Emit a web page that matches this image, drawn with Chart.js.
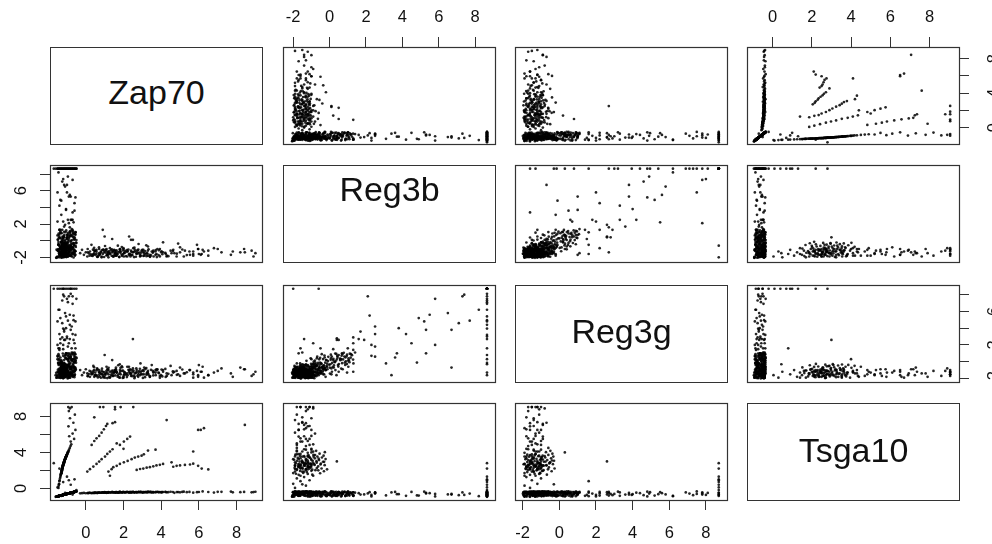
<!DOCTYPE html>
<html>
<head>
<meta charset="utf-8">
<title>Scatterplot matrix: Zap70, Reg3b, Reg3g, Tsga10</title>
<script src="https://cdn.jsdelivr.net/npm/chart.js@4.4.1/dist/chart.umd.min.js"></script>
<style>
  html, body { margin: 0; padding: 0; background: #fff; overflow: hidden; }
  #matrix { position: relative; width: 992px; height: 544px; overflow: hidden; }
  .diag {
    position: absolute;
    box-sizing: border-box;
    border: 1.2px solid #333;
    display: flex;
    align-items: center;
    justify-content: center;
    font-family: "Liberation Sans", Arial, sans-serif;
    font-size: 34px;
    color: #111;
  }
</style>
</head>
<body>
<div id="matrix"></div>
<script>
// Gene names, in matrix order
const genes = ['Zap70', 'Reg3b', 'Reg3g', 'Tsga10'];

// Axis limits per gene (data range plus R's 4% padding)
const axisMin = [-1.9, -2.56, -2.42, -1.3];
const axisMax = [9.35, 9.09, 9.15, 9.5];

// Tick positions and the labels that survive on the vertical axes
const tickValues = [[0, 2, 4, 6, 8], [-2, 0, 2, 4, 6, 8], [-2, 0, 2, 4, 6, 8], [0, 2, 4, 6, 8]];
const sideLabels = [[0, 4, 8], [-2, 2, 6], [-2, 2, 6], [0, 4, 8]];

// Each cell: [Zap70, Reg3b, Reg3g, Tsga10]
// Zap70-expressing cells
const zapCells = [
  [8.9, -1.9, -1.5, -0.42], [9.0, -1.5, -1.2, -0.38], [8.8, -1.2, -1.7, -0.45], [8.4, -1.0, -0.9, -0.40],
  [7.7, -1.7, -1.4, -0.36], [7.8, -1.3, -1.8, -0.44], [7.2, -1.4, -0.8, -0.39], [6.8, -0.9, -1.3, -0.47],
  [6.5, -1.8, -1.6, -0.41], [6.2, -1.1, -0.6, -0.35], [5.9, -0.5, -1.1, -0.43], [5.7, -1.6, -1.9, -0.48],
  [5.5, -1.3, -1.0, -0.40], [5.2, -1.9, -1.4, -0.37], [5.0, -0.8, -0.7, -0.45], [4.9, -0.35, -1.5, -0.42],
  [4.7, -1.5, -1.2, -0.50], [4.5, -1.2, -0.5, -0.38], [4.3, -1.8, -1.7, -0.44], [4.1, -0.2, -1.0, -0.41],
  [4.0, -1.4, -1.6, -0.46], [3.8, -1.0, -0.9, -0.39], [3.7, -1.7, -1.3, -0.43], [3.5, -1.3, -0.4, -0.47],
  [3.4, -1.9, -1.8, -0.40], [3.3, -0.7, -1.1, -0.36], [3.1, -1.5, -0.7, -0.44], [3.0, -1.1, -1.5, -0.49],
  [2.9, -1.8, -0.2, -0.42], [2.8, -0.4, -1.3, -0.38], [2.7, -1.6, -1.0, -0.45], [2.5, 0.1, -0.8, -0.41],
  [2.4, -1.2, -1.7, -0.47], [2.3, 0.5, -1.2, -0.43], [2.2, -1.9, -0.6, -0.39], [2.1, -1.4, -1.4, -0.46],
  [2.0, -0.9, -1.9, -0.40], [1.9, -1.7, -1.1, -0.44], [1.8, -1.3, -0.3, -0.37], [1.7, -0.6, -1.6, -0.48],
  [1.6, -1.8, -0.9, -0.42], [1.5, -1.1, -1.3, -0.45], [1.4, 0.2, 0.2, -0.40], [1.3, -1.5, -1.8, -0.47],
  [1.2, -2.0, -1.0, -0.43], [1.1, -1.0, -0.6, -0.50], [1.0, 0.5, 0.8, -0.41], [0.9, -1.6, -1.5, -0.46],
  [0.9, 1.3, -1.2, -0.44], [0.8, -1.3, -1.9, -0.49], [0.7, -0.8, -1.2, -0.45], [0.6, -1.9, -0.8, -0.51],
  [0.5, -1.2, -1.6, -0.47], [0.4, -1.6, -0.5, -0.50], [0.3, -0.5, -1.4, -0.53], [0.2, -1.8, -1.1, -0.48],
  [0.1, -1.0, -1.7, -0.52], [0.0, -1.4, -0.9, -0.55], [-0.1, -1.7, -1.3, -0.51], [-0.2, -1.1, -1.6, -0.54],
  [-0.3, -1.5, -1.0, -0.56], [2.5, -1.4, 2.7, -0.40], [2.4, 0.1, -1.5, -0.42], [6.0, -1.6, -0.4, -0.41],
  [7.0, -1.0, -1.1, -0.39], [8.2, -1.4, -0.7, -0.43], [3.6, -1.9, -1.2, -0.46], [2.6, -1.3, -1.8, -0.44],
  [1.6, -1.5, -0.7, -0.48], [0.5, -1.7, -1.3, -0.50]
];

// Zap70 cells, dense core
const zapCore = [
  [0.36, -1.84, -1.46, -0.52], [0.57, -1.33, -1.04, -0.50], [0.73, -1.67, -1.77, -0.49], [0.86, -1.12, -0.83, -0.47],
  [0.97, -1.96, -1.24, -0.48], [1.04, -1.43, -1.57, -0.46], [1.17, -1.76, -0.94, -0.47], [1.23, -1.27, -1.86, -0.45],
  [1.38, -1.03, -1.33, -0.46], [1.44, -1.88, -1.07, -0.44], [1.56, -1.52, -1.63, -0.45], [1.63, -1.17, -1.16, -0.43],
  [1.78, -1.94, -1.42, -0.46], [1.84, -1.46, -0.73, -0.44], [1.96, -1.64, -1.93, -0.42], [2.07, -1.23, -1.27, -0.45],
  [2.13, -1.86, -1.54, -0.43], [2.26, -1.07, -0.96, -0.44], [2.34, -1.57, -1.36, -0.42], [2.47, -1.74, -1.72, -0.45],
  [2.53, -1.36, -1.06, -0.41], [2.66, -1.93, -1.34, -0.43], [2.74, -1.14, -1.67, -0.44], [2.87, -1.66, -0.84, -0.42],
  [2.93, -1.44, -1.47, -0.40], [3.06, -1.83, -1.13, -0.43], [3.14, -1.26, -1.84, -0.41], [3.27, -1.54, -1.23, -0.44],
  [3.33, -1.04, -1.56, -0.42], [3.46, -1.77, -0.97, -0.40], [3.58, -1.34, -1.64, -0.43], [3.77, -1.97, -1.03, -0.41],
  [3.88, -1.16, -1.37, -0.44], [4.06, -1.63, -1.76, -0.42], [4.22, -1.47, -0.86, -0.40], [4.38, -1.86, -1.44, -0.43],
  [4.62, -1.24, -1.14, -0.41], [4.83, -1.56, -1.57, -0.42], [5.12, -1.06, -0.93, -0.40], [5.36, -1.73, -1.26, -0.43],
  [0.44, -0.86, -0.66, -0.51], [1.02, -0.64, -1.46, -0.48], [1.91, -0.77, -0.54, -0.45], [2.58, -0.84, -1.96, -0.44],
  [3.21, -0.56, -0.76, -0.42], [0.16, -1.52, -1.48, -0.53], [0.64, -1.91, -1.88, -0.50], [1.72, -1.38, -0.42, -0.47],
  [2.29, -1.62, -0.61, -0.44], [3.93, -1.89, -1.92, -0.41]
];

// Zap70 cells, low-expression end of the core
const zapFill = [
  [0.27, -1.64, -1.18, -0.52], [0.48, -1.22, -1.63, -0.51], [0.62, -1.95, -0.91, -0.50], [0.81, -1.41, -1.42, -0.48],
  [0.93, -1.07, -1.88, -0.47], [1.09, -1.78, -1.11, -0.46], [1.21, -1.53, -0.72, -0.47], [1.33, -1.16, -1.57, -0.45],
  [1.47, -1.92, -1.36, -0.46], [1.58, -1.29, -0.98, -0.44], [1.69, -1.61, -1.79, -0.45], [1.82, -1.03, -1.21, -0.43],
  [1.93, -1.83, -0.66, -0.45], [2.04, -1.48, -1.49, -0.44], [2.18, -1.14, -1.83, -0.43], [2.31, -1.71, -1.02, -0.44],
  [2.42, -1.33, -1.31, -0.42], [2.56, -1.97, -1.66, -0.44], [2.68, -1.52, -0.79, -0.42], [2.79, -1.08, -1.52, -0.43],
  [2.91, -1.81, -1.24, -0.41], [3.03, -1.37, -1.93, -0.43], [3.16, -1.65, -0.88, -0.42], [3.29, -1.21, -1.38, -0.41],
  [3.41, -1.94, -1.71, -0.43], [3.55, -1.46, -1.08, -0.41], [3.71, -1.12, -1.61, -0.42], [3.86, -1.73, -1.29, -0.41],
  [4.02, -1.27, -0.94, -0.43], [4.24, -1.58, -1.81, -0.41], [0.38, -1.08, -1.29, -0.52], [0.71, -1.75, -1.56, -0.49],
  [1.14, -1.32, -1.95, -0.47], [1.52, -1.69, -1.22, -0.45], [1.97, -1.18, -1.06, -0.44], [2.37, -1.89, -1.44, -0.43],
  [2.83, -1.42, -1.11, -0.42], [3.22, -1.86, -1.57, -0.43], [0.11, -1.39, -1.72, -0.53], [1.77, -1.97, -1.88, -0.45]
];

// Reg3b / Reg3g cells, main cloud
const reg3Cells = [
  [-1.55, -2.05, -1.9, -0.92], [-1.2, -1.88, -1.4, -0.73], [-0.9, -1.83, -1.7, -0.57], [-1.4, -1.72, -1.1, -0.84],
  [-0.7, -1.58, -1.8, -0.46], [-1.05, -1.52, -1.4, -0.65], [-1.3, -1.37, -0.9, -0.79], [-0.6, -1.31, -1.6, -0.40],
  [-1.5, -1.16, -1.2, -0.90], [-0.85, -1.12, -0.6, -0.54], [-1.15, -0.97, -1.5, -0.70], [-0.75, -0.93, -1.0, -0.48],
  [-1.35, -0.78, -0.3, -0.81], [-0.95, -0.71, -1.3, -0.59], [-0.55, -0.58, -0.8, -0.37], [-1.25, -0.52, -0.1, -0.76],
  [-1.0, -0.36, -1.1, -0.62], [-0.65, -0.33, -0.5, -0.43], [-1.45, -0.17, 0.2, -0.87], [-0.8, -0.12, -0.9, -0.51],
  [-1.1, 0.04, -0.3, -0.68], [-0.5, 0.08, 0.4, -0.35], [-1.3, 0.23, -0.7, -0.79], [-0.9, 0.27, 0.0, -0.57],
  [-1.2, 0.42, 0.7, -0.73], [-0.7, 0.46, -0.4, -0.46], [-1.5, 0.63, 0.3, -0.90], [-1.0, 0.68, 1.0, -0.62],
  [-0.6, 0.84, -0.1, -0.40], [-1.35, 0.87, 0.5, -0.81], [-0.85, 1.03, -0.6, -0.54], [-1.15, 1.07, 0.2, -0.70],
  [-0.75, 1.18, 0.9, -0.48], [-1.4, 1.31, -0.2, -0.84], [-0.95, -1.93, -0.5, -0.59], [-1.25, -1.62, -0.2, -0.76],
  [-0.55, -1.27, 0.1, -0.37], [-1.05, -1.04, 0.4, -0.65], [-0.8, -0.68, 0.6, -0.51], [-1.45, -0.43, 0.9, -0.87],
  [-0.65, -2.02, -1.2, -0.43], [-1.2, -1.67, -1.9, -0.73], [-0.9, -1.42, -1.5, -0.57], [-1.55, -1.08, -1.9, -0.92],
  [-0.7, -0.82, -1.7, -0.46], [-1.1, -0.47, -1.4, -0.68], [-1.3, -0.22, -1.8, -0.79], [-0.6, 0.13, -1.2, -0.40],
  [-1.0, 0.38, -1.6, -0.62], [-0.85, 0.72, -0.9, -0.54], [-1.35, 0.96, -1.3, -0.81], [-0.75, -1.46, -0.6, -0.48],
  [-1.15, -0.88, -0.2, -0.70], [-0.5, -0.27, 0.5, -0.35], [-1.4, 0.32, -1.0, -0.84]
];

// Reg3 cells, second pass over the dense cloud
const reg3Core = [
  [-1.52, -1.94, -1.62, -0.91], [-1.18, -1.81, -1.23, -0.72], [-0.88, -1.76, -1.91, -0.56], [-1.38, -1.63, -1.47, -0.83],
  [-0.68, -1.55, -1.08, -0.45], [-1.08, -1.47, -1.74, -0.67], [-1.28, -1.39, -1.29, -0.78], [-0.58, -1.28, -1.52, -0.39],
  [-1.48, -1.21, -0.97, -0.89], [-0.83, -1.14, -1.38, -0.53], [-1.13, -1.06, -1.12, -0.69], [-0.73, -0.98, -1.61, -0.47],
  [-1.33, -0.91, -0.74, -0.80], [-0.93, -0.84, -1.17, -0.58], [-0.53, -0.76, -0.93, -0.36], [-1.23, -0.69, -0.46, -0.75],
  [-0.98, -0.61, -1.02, -0.61], [-0.63, -0.54, -0.68, -0.42], [-1.43, -0.47, -0.21, -0.86], [-0.78, -0.39, -0.57, -0.50],
  [-1.12, -0.31, -0.83, -0.69], [-0.52, -0.24, -0.12, -0.36], [-1.32, -0.16, -0.49, -0.80], [-0.92, -0.09, 0.08, -0.58],
  [-1.22, -0.02, -0.36, -0.74], [-0.72, 0.06, 0.22, -0.47], [-1.47, 0.14, -0.15, -0.88], [-1.02, 0.21, 0.35, -0.63],
  [-0.62, 0.29, -0.06, -0.42], [-1.37, 0.36, 0.13, -0.82], [-0.87, 0.44, 0.56, -0.55], [-1.17, 0.51, -0.28, -0.71],
  [-0.77, 0.59, 0.18, -0.49], [-1.42, 0.66, 0.71, -0.85], [-0.97, 0.74, 0.27, -0.60], [-0.57, 0.81, 0.62, -0.38],
  [-1.27, 0.89, 0.05, -0.77], [-0.82, 0.96, 0.84, -0.52], [-1.07, 1.04, 0.41, -0.66], [-0.67, 1.11, 0.96, -0.44],
  [-1.57, -2.06, -1.33, -0.93], [-1.03, -1.97, -0.86, -0.64], [-0.76, -1.88, -1.46, -0.48], [-1.31, -1.72, -0.62, -0.79],
  [-0.61, -1.68, -1.66, -0.40], [-1.16, -1.59, -0.79, -0.70], [-0.91, -1.43, -0.36, -0.57], [-1.41, -1.33, -1.83, -0.84],
  [-0.56, -1.24, -0.71, -0.37], [-1.21, -1.17, -1.96, -0.74], [-0.86, -1.02, -0.27, -0.55], [-1.36, -0.94, -1.44, -0.82],
  [-0.66, -0.87, 0.02, -0.43], [-1.11, -0.73, -1.73, -0.69], [-0.81, -0.63, -0.14, -0.51], [-1.46, -0.49, -1.27, -0.87],
  [-0.71, -0.36, 0.31, -0.46], [-1.01, -0.21, -0.98, -0.63], [-1.26, 0.02, -1.41, -0.76], [-0.60, 0.17, -0.63, -0.40]
];

// Reg3 cells, upper edge of the dense cloud
const reg3Fill = [
  [-1.19, -0.95, -0.42, -0.72], [-0.74, -0.81, 0.12, -0.47], [-1.39, -0.66, -0.88, -0.83], [-0.89, -0.52, 0.47, -0.56],
  [-1.09, -0.41, -0.63, -0.67], [-0.64, -0.28, 0.74, -0.43], [-1.29, -0.13, -0.24, -0.78], [-0.79, 0.01, -0.71, -0.50],
  [-1.49, 0.12, 0.61, -0.89], [-0.99, 0.24, -0.44, -0.61], [-0.59, 0.37, 0.93, -0.39], [-1.24, 0.48, -0.58, -0.75],
  [-0.84, 0.57, 0.37, -0.53], [-1.14, 0.69, -0.17, -0.70], [-0.69, 0.78, 1.07, -0.45], [-1.44, 0.86, -0.38, -0.86],
  [-0.94, 0.93, 0.66, -0.59], [-0.54, 1.02, 0.14, -0.37], [-1.34, 1.09, -0.05, -0.81], [-0.84, 1.16, 0.48, -0.53],
  [-1.04, 1.23, 0.78, -0.64], [-0.70, 1.29, 0.25, -0.45], [-1.22, 0.31, 0.98, -0.74], [-0.77, 0.64, -0.82, -0.49],
  [-1.12, -0.07, 0.58, -0.69], [-0.62, -0.57, 0.28, -0.41], [-1.32, -0.77, -0.15, -0.79], [-0.92, 0.07, 0.84, -0.57],
  [-1.42, 0.41, 0.34, -0.85], [-0.67, 0.95, -0.26, -0.44], [-1.53, -1.98, -1.78, -0.92], [-1.17, -1.86, -1.52, -0.71],
  [-0.81, -1.74, -1.26, -0.51], [-1.35, -1.61, -1.94, -0.82], [-0.71, -1.49, -1.42, -0.46], [-1.06, -1.38, -1.67, -0.66],
  [-1.26, -1.26, -1.13, -0.77], [-0.61, -1.12, -1.85, -0.41], [-1.46, -1.00, -1.31, -0.87], [-0.86, -0.89, -1.57, -0.55],
  [-1.14, -1.95, -1.06, -0.70], [-0.76, -1.83, -0.77, -0.48], [-1.37, -1.70, -1.60, -0.82], [-0.96, -1.57, -1.99, -0.60],
  [-1.23, -1.44, -0.68, -0.75], [-0.66, -1.31, -1.16, -0.43], [-1.02, -1.18, -1.48, -0.63], [-1.43, -1.06, -0.84, -0.86],
  [-0.83, -0.96, -1.90, -0.52], [-1.28, -2.04, -1.45, -0.78]
];

// Reg3 cells with high expression, scattered along the diagonal
const reg3Outliers = [
  [-1.0, 6.7, -0.7, -0.62], [-0.7, 3.4, -1.6, -0.46], [-1.3, 4.8, -0.1, -0.79], [-0.9, 5.3, 1.0, -0.57],
  [-1.5, 5.8, 2.0, -0.90], [-0.6, 4.5, 2.2, -0.40], [-1.15, 6.7, 3.8, -0.70], [-0.8, 5.3, 3.8, -0.51],
  [-1.4, 4.2, 3.3, -0.84], [-1.05, 3.8, 4.0, -0.65], [-0.75, 2.5, 4.2, -0.48], [-1.25, 7.1, 4.6, -0.76],
  [-0.95, 7.7, 4.9, -0.59], [-0.55, 5.2, 4.8, -0.37], [-1.35, 4.9, 5.2, -0.81], [-0.85, 5.5, 5.6, -0.54],
  [-1.1, 6.5, 5.8, -0.68], [-0.65, 2.2, 5.5, -0.43], [-1.45, 8.2, 6.2, -0.87], [-1.0, 5.8, 7.5, -0.62],
  [-0.7, 7.3, 7.8, -0.46], [-1.2, 7.4, 8.0, -0.73], [-0.9, 2.1, 7.8, -0.57], [-1.3, 3.1, -0.2, -0.79],
  [-0.6, 3.6, 0.5, -0.40], [-1.05, 3.7, 1.0, -0.65], [-0.8, 2.5, 0.6, -0.51], [-1.5, 2.3, 0.7, -0.90],
  [-0.95, 2.5, 1.8, -0.59], [-1.2, 2.3, 2.0, -0.73], [-0.75, 1.4, 1.1, -0.48], [-1.4, 1.3, 1.4, -0.84],
  [-0.55, 1.0, 1.6, -0.37], [-1.1, 1.9, 2.6, -0.68], [-0.85, 1.6, 2.7, -0.54], [-1.35, 1.3, 2.2, -0.81],
  [-0.65, 0.5, 2.6, -0.43], [-1.0, 0.4, 2.8, -0.62], [-1.25, 1.3, 2.9, -0.76], [-0.7, 2.5, 3.3, -0.46],
  [-1.15, 1.7, 3.6, -0.70], [-0.9, -0.9, 2.2, -0.57], [-1.45, -0.5, 1.6, -0.87], [-0.6, -1.5, 1.1, -0.40],
  [-1.05, -1.7, 1.0, -0.65], [-0.8, -0.7, 0.4, -0.51], [-1.3, -0.2, 0.2, -0.79], [-0.95, 0.6, 0.3, -0.59],
  [-0.55, 0.7, 0.9, -0.37], [-1.2, 0.2, 1.5, -0.73], [-0.8, -0.6, 8.7, -0.51], [-1.2, -2.0, 8.7, -0.73]
];

// Reg3b at its ceiling
const reg3bCapped = [
  [-1.6, 8.65, -1.6, -0.95], [-1.3, 8.65, -1.3, -0.79], [-0.9, 8.65, -0.3, -0.57], [-1.45, 8.65, -0.15, -0.87],
  [-0.6, 8.65, 0.3, -0.40], [-1.1, 8.65, 0.8, -0.68], [-0.75, 8.65, 1.6, -0.48], [-1.35, 8.65, 2.7, -0.81],
  [-1.0, 8.65, 3.0, -0.62], [-0.55, 8.65, 3.2, -0.37], [-1.2, 8.65, 3.95, -0.73], [-0.85, 8.65, 4.4, -0.54],
  [-1.5, 8.65, 4.8, -0.90], [-0.65, 8.65, 4.95, -0.43], [-1.05, 8.65, 5.4, -0.65], [-1.4, 8.65, 6.2, -0.84],
  [-0.7, 8.65, 6.9, -0.46], [-0.95, 8.65, 7.1, -0.59], [-1.25, 8.65, 7.3, -0.76], [-0.5, 8.65, 7.5, -0.35],
  [-1.15, 8.65, 7.8, -0.70], [-0.8, 8.65, 8.1, -0.51]
];

// Both Reg3 genes at their ceiling
const saturated = [
  [-1.7, 8.65, 8.7, 2.8], [-1.4, 8.65, 8.7, 2.2], [-1.0, 8.65, 8.7, 1.3], [-0.6, 8.65, 8.7, 1.0],
  [-1.2, 8.65, 8.7, 0.7], [-0.8, 8.65, 8.7, 0.4], [-1.5, 8.65, 8.7, 0.1], [-0.5, 8.65, 8.7, -0.2],
  [-1.1, 8.65, 8.7, -0.5], [-0.7, 8.65, 8.7, -0.7], [-1.3, 8.65, 8.7, -0.85], [-0.9, 8.65, 8.7, 0.9]
];

// Tsga10-expressing cells
const tsgaCells = [
  [-1.45, -1.9, -1.6, 0.05], [-1.44, -1.3, -1.9, 0.3], [-1.42, -2.0, -1.2, 0.5], [-1.40, -1.6, 1.6, 0.8],
  [-1.39, -1.1, -1.5, 0.9], [-1.37, -1.8, -1.0, 1.1], [-1.35, -1.4, -1.8, 1.25], [-1.34, -0.9, -1.3, 1.4],
  [-1.33, -1.7, -1.6, 1.5], [-1.32, -1.2, -1.1, 1.6], [-1.31, -2.0, -1.9, 1.7], [-1.29, -1.5, -1.4, 1.85],
  [-1.28, -1.0, -0.9, 1.95], [-1.27, -1.8, -1.7, 2.05], [-1.26, -1.3, -1.2, 2.15], [-1.25, -0.7, -1.6, 2.25],
  [-1.24, -1.6, -1.0, 2.3], [-1.23, -1.1, -1.8, 2.4], [-1.22, -1.9, -1.4, 2.5], [-1.21, -1.4, -0.7, 2.55],
  [-1.20, -0.5, -1.3, 2.65], [-1.19, -1.7, -1.9, 2.7], [-1.17, -1.2, -1.1, 2.8], [-1.16, -0.9, -1.5, 2.85],
  [-1.16, -1.5, -0.5, 2.9], [-1.15, 0.4, 2.6, 3.0], [-1.14, -1.8, -1.2, 3.05], [-1.12, -1.0, -1.7, 3.15],
  [-1.11, -1.3, -0.9, 3.2], [-1.09, -0.6, -1.4, 3.3], [-1.08, -1.6, -1.8, 3.35], [-1.06, -1.1, -1.0, 3.45],
  [-1.04, -1.9, -1.5, 3.55], [-1.03, -1.4, -0.8, 3.6], [-1.01, -0.8, -1.6, 3.7], [-0.99, -1.7, -1.3, 3.8],
  [-0.96, -1.2, -1.9, 3.95], [-0.93, -1.5, -1.1, 4.1], [-0.89, -1.0, -1.4, 4.3], [-0.85, -1.8, -0.6, 4.5],
  [-0.81, -1.3, -1.7, 4.7], [-0.77, -0.9, -1.2, 4.9], [-0.80, -1.6, -1.5, 5.2], [-0.62, -1.1, -0.9, 5.5],
  [-0.88, -1.4, -1.8, 5.8], [-0.70, -0.8, -1.3, 6.1], [-0.55, -1.7, -1.0, 6.5], [-0.92, -1.2, -1.6, 6.9],
  [-0.66, -1.5, -0.7, 7.3], [-0.84, -1.0, -1.4, 7.8], [-0.58, -1.8, -1.1, 8.2], [-0.90, -1.3, -1.7, 8.6],
  [-0.93, -1.6, -1.2, 9.05], [-0.75, -1.1, -1.5, 9.05], [-0.84, -0.9, -0.8, 8.9], [-1.21, -1.9, -1.0, 2.6],
  [-1.15, -0.3, -1.5, 2.95], [-1.13, -1.2, -0.4, 3.1], [-1.42, -1.5, -0.3, 0.45], [-0.95, -1.0, 0.3, 4.0]
];

// Tsga10 cells, dense core
const tsgaCore = [
  [-1.30, -1.85, -1.35, 1.62], [-1.28, -1.25, -1.75, 1.81], [-1.27, -1.62, -0.95, 1.93], [-1.26, -0.95, -1.45, 2.08],
  [-1.25, -1.48, -1.85, 2.19], [-1.24, -1.92, -1.15, 2.28], [-1.23, -1.15, -1.55, 2.36], [-1.22, -1.72, -1.25, 2.47],
  [-1.21, -1.35, -0.85, 2.52], [-1.20, -0.82, -1.65, 2.61], [-1.19, -1.58, -1.95, 2.68], [-1.18, -1.05, -1.05, 2.74],
  [-1.17, -1.85, -1.45, 2.79], [-1.16, -1.42, -1.15, 2.83], [-1.15, -1.18, -1.75, 2.92], [-1.14, -1.65, -0.75, 2.98],
  [-1.13, -0.72, -1.35, 3.02], [-1.12, -1.52, -1.55, 3.10], [-1.11, -1.95, -1.05, 3.18], [-1.10, -1.28, -1.85, 3.24],
  [-1.09, -1.02, -1.25, 3.28], [-1.08, -1.75, -1.45, 3.38], [-1.06, -1.38, -0.95, 3.48], [-1.05, -0.88, -1.65, 3.52],
  [-1.04, -1.62, -1.15, 3.58], [-1.02, -1.15, -1.35, 3.66], [-1.00, -1.88, -1.75, 3.75], [-1.29, -1.45, -1.05, 1.72],
  [-1.27, -0.62, -1.25, 2.00], [-1.18, -1.32, -0.55, 2.77]
];

// Tsga10 cells with some Reg3 signal
const tsgaSpread = [
  [-1.33, -0.95, -0.68, 1.52], [-1.30, -0.52, -1.05, 1.68], [-1.28, -0.31, -0.42, 1.90], [-1.27, -0.78, -0.86, 2.02],
  [-1.25, -0.44, -0.26, 2.21], [-1.24, -1.02, -0.57, 2.33], [-1.22, -0.63, -0.95, 2.44], [-1.21, -0.27, -0.71, 2.58],
  [-1.19, -0.86, -0.35, 2.69], [-1.18, -0.48, -1.08, 2.76], [-1.17, -0.71, -0.52, 2.86], [-1.15, -0.36, -0.84, 2.96],
  [-1.14, -0.93, -0.29, 3.07], [-1.12, -0.58, -0.66, 3.14], [-1.10, -0.22, -0.98, 3.26], [-1.09, -0.81, -0.45, 3.34],
  [-1.07, -0.42, -0.77, 3.43], [-1.05, -0.67, -0.33, 3.54], [-1.03, -0.33, -0.91, 3.63], [-1.01, -0.89, -0.60, 3.72],
  [-0.98, -0.55, -0.38, 3.86], [-0.95, -0.26, -0.73, 4.02], [-0.91, -0.74, -0.49, 4.18], [-1.26, -0.14, -0.62, 2.12]
];

// Cells expressing both Zap70 and Tsga10
const zapTsgaCells = [
  [0.75, -1.6, -1.3, 9.05], [0.93, -1.1, -1.7, 9.05], [1.55, -1.8, -1.0, 9.05], [1.85, -1.3, -1.5, 9.05],
  [2.52, -0.9, -1.2, 9.05], [0.45, -1.5, -1.8, 7.9], [1.55, -1.2, -1.1, 8.8], [4.29, -1.9, -1.4, 7.6],
  [8.44, -1.4, -0.9, 7.06], [5.96, -1.0, -1.6, 6.5], [6.1, -1.7, -1.2, 6.5], [6.27, -1.3, -1.9, 6.7],
  [0.31, -1.8, -1.5, 4.83], [0.45, -1.2, -1.0, 5.27], [0.57, -1.6, -1.7, 5.57], [0.71, -1.0, -1.3, 5.83],
  [0.84, -1.9, -1.1, 6.2], [0.96, -1.4, -1.8, 6.57], [1.07, -1.1, -1.4, 6.94], [1.14, -1.7, -0.9, 7.17],
  [1.42, -1.3, -1.6, 7.25], [1.55, -1.5, -1.2, 7.36], [0.08, -1.9, -1.4, 1.87], [0.22, -1.3, -1.8, 2.13],
  [0.4, -1.7, -1.1, 2.42], [0.57, -1.1, -1.6, 2.72], [0.71, -1.5, -1.0, 2.98], [0.84, -2.0, -1.5, 3.24],
  [1.02, -1.2, -1.9, 3.53], [1.14, -1.6, -1.3, 3.83], [1.28, -0.9, -1.2, 4.09], [1.42, -1.4, -1.7, 4.35],
  [1.64, -1.8, -1.3, 5.0], [1.81, -1.1, -1.0, 4.83], [2.02, -1.5, -1.6, 5.2], [2.2, -1.3, -1.4, 5.5],
  [2.35, -1.7, -0.9, 5.76], [2.0, -1.0, -1.8, 4.4], [1.2, -1.4, -1.5, 1.87], [1.37, -1.8, -1.1, 2.13],
  [1.46, -1.2, -1.7, 2.35], [1.64, -1.6, -1.3, 2.5], [1.81, -1.0, -1.9, 2.72], [2.02, -1.9, -1.2, 2.9],
  [2.22, -1.3, -1.6, 3.05], [2.43, -1.7, -1.0, 3.24], [2.6, -1.1, -1.4, 3.42], [2.78, -1.5, -1.8, 3.53],
  [2.96, -1.2, -1.1, 3.64], [3.08, -1.8, -1.5, 3.79], [1.28, -1.6, -1.9, 1.4], [2.7, -1.3, -1.2, 2.05],
  [2.88, -1.9, -1.6, 2.15], [3.05, -1.1, -1.0, 2.2], [3.23, -1.5, -1.4, 2.3], [3.4, -1.7, -1.8, 2.35],
  [3.58, -1.2, -1.3, 2.45], [3.75, -1.6, -0.9, 2.55], [3.93, -1.0, -1.7, 2.62], [4.1, -1.4, -1.2, 2.72],
  [3.3, -1.8, -1.4, 4.2], [3.7, -1.3, -1.0, 4.3], [4.55, -1.5, -1.6, 2.9], [4.64, -1.1, -1.3, 2.4],
  [4.82, -1.9, -1.1, 2.5], [5.0, -1.4, -1.7, 2.55], [5.26, -1.2, -1.4, 2.6], [5.53, -1.7, -1.0, 2.65],
  [5.7, -1.3, -1.5, 2.75], [5.96, -1.0, -1.8, 2.5], [6.15, -1.6, -1.2, 2.2], [6.5, -1.2, -1.6, 2.1],
  [5.7, -1.8, -1.3, 4.1]
];

const cells = [].concat(zapCells, zapCore, zapFill, reg3Cells, reg3Core, reg3Fill, reg3Outliers,
  reg3bCapped, saturated, tsgaCells, tsgaCore, tsgaSpread, zapTsgaCells);

// Panel grid in page pixels
const colLeft = [50, 283, 515, 747];
const rowTop = [47, 165, 285, 403];
const cellW = 212;
const cellH = 97;
const margin = 50;
const axisSize = 45;
// vertical nudge of each gene name inside its box
const nameShift = [-4, -25, -3, -2];

const fontFamily = '"Liberation Sans", Arial, sans-serif';
const tickSize = 16.5;
const tickFont = { family: fontFamily, size: tickSize };
// distance from tick end to label centre, per side
const labelGap = { top: 20, bottom: 23.5, left: 18.5, right: 25 };

const measureCtx = document.createElement('canvas').getContext('2d');
measureCtx.font = tickSize + 'px ' + fontFamily;

const matrix = document.getElementById('matrix');

// Frame around every panel
const panelFrame = {
  id: 'panelFrame',
  afterDraw(chart) {
    const { ctx, chartArea: a } = chart;
    ctx.save();
    ctx.strokeStyle = '#333';
    ctx.lineWidth = 1.2;
    ctx.strokeRect(Math.round(a.left) + 0.5, Math.round(a.top) + 0.5,
      Math.round(a.right - a.left), Math.round(a.bottom - a.top));
    ctx.restore();
  }
};

function scaleOptions(v, position, shown) {
  const horizontal = position === 'top' || position === 'bottom';
  const labels = horizontal ? tickValues[v] : sideLabels[v];
  const widest = Math.max.apply(null, labels.map(l => measureCtx.measureText(String(l)).width));
  const padding = horizontal ? labelGap[position] - tickSize * 0.6 : labelGap[position] - widest / 2;
  return {
    type: 'linear',
    position: position,
    display: shown,
    min: axisMin[v],
    max: axisMax[v],
    afterBuildTicks: scale => { scale.ticks = tickValues[v].map(value => ({ value })); },
    afterFit: scale => {
      if (!shown) return;
      if (horizontal) scale.height = axisSize; else scale.width = axisSize;
    },
    grid: { drawOnChartArea: false, drawTicks: true, tickLength: 10, color: '#333', lineWidth: 1 },
    border: { display: false },
    ticks: {
      autoSkip: false,
      color: '#111',
      font: tickFont,
      padding: padding,
      minRotation: horizontal ? 0 : 90,
      maxRotation: horizontal ? 0 : 90,
      crossAlign: horizontal ? 'near' : 'center',
      callback: value => labels.indexOf(value) >= 0 ? String(value) : ''
    }
  };
}

function drawPanel(r, c) {
  const canvas = document.createElement('canvas');
  canvas.width = cellW + 2 * margin;
  canvas.height = cellH + 2 * margin;
  canvas.style.position = 'absolute';
  canvas.style.left = (colLeft[c] - margin) + 'px';
  canvas.style.top = (rowTop[r] - margin) + 'px';
  matrix.appendChild(canvas);

  // outer axes alternate sides, as in R's pairs()
  const xTop = r === 0 && c % 2 === 1;
  const xBottom = r === 3 && c % 2 === 0;
  const yLeft = c === 0 && r % 2 === 1;
  const yRight = c === 3 && r % 2 === 0;

  new Chart(canvas, {
    type: 'scatter',
    data: {
      datasets: [{
        data: cells.map(cell => ({ x: cell[c], y: cell[r] })),
        pointRadius: 1.35,
        pointBorderWidth: 0,
        pointBackgroundColor: 'rgba(0, 0, 0, 0.85)',
        pointHoverRadius: 1.35
      }]
    },
    options: {
      responsive: false,
      animation: false,
      events: [],
      layout: {
        padding: {
          left: margin - (yLeft ? axisSize : 0),
          right: margin - (yRight ? axisSize : 0),
          top: margin - (xTop ? axisSize : 0),
          bottom: margin - (xBottom ? axisSize : 0)
        }
      },
      plugins: { legend: { display: false }, tooltip: { enabled: false } },
      scales: {
        x: scaleOptions(c, xTop ? 'top' : 'bottom', xTop || xBottom),
        y: scaleOptions(r, yRight ? 'right' : 'left', yLeft || yRight)
      }
    },
    plugins: [panelFrame]
  });
}

function drawLabel(i) {
  const box = document.createElement('div');
  box.className = 'diag';
  box.style.left = colLeft[i] + 'px';
  box.style.top = rowTop[i] + 'px';
  box.style.width = (cellW + 1) + 'px';
  box.style.height = (cellH + 1) + 'px';
  const name = document.createElement('span');
  name.textContent = genes[i];
  name.style.transform = 'translateY(' + nameShift[i] + 'px)';
  box.appendChild(name);
  matrix.appendChild(box);
}

for (let r = 0; r < 4; r++) {
  for (let c = 0; c < 4; c++) {
    if (r === c) drawLabel(r); else drawPanel(r, c);
  }
}
</script>
</body>
</html>
